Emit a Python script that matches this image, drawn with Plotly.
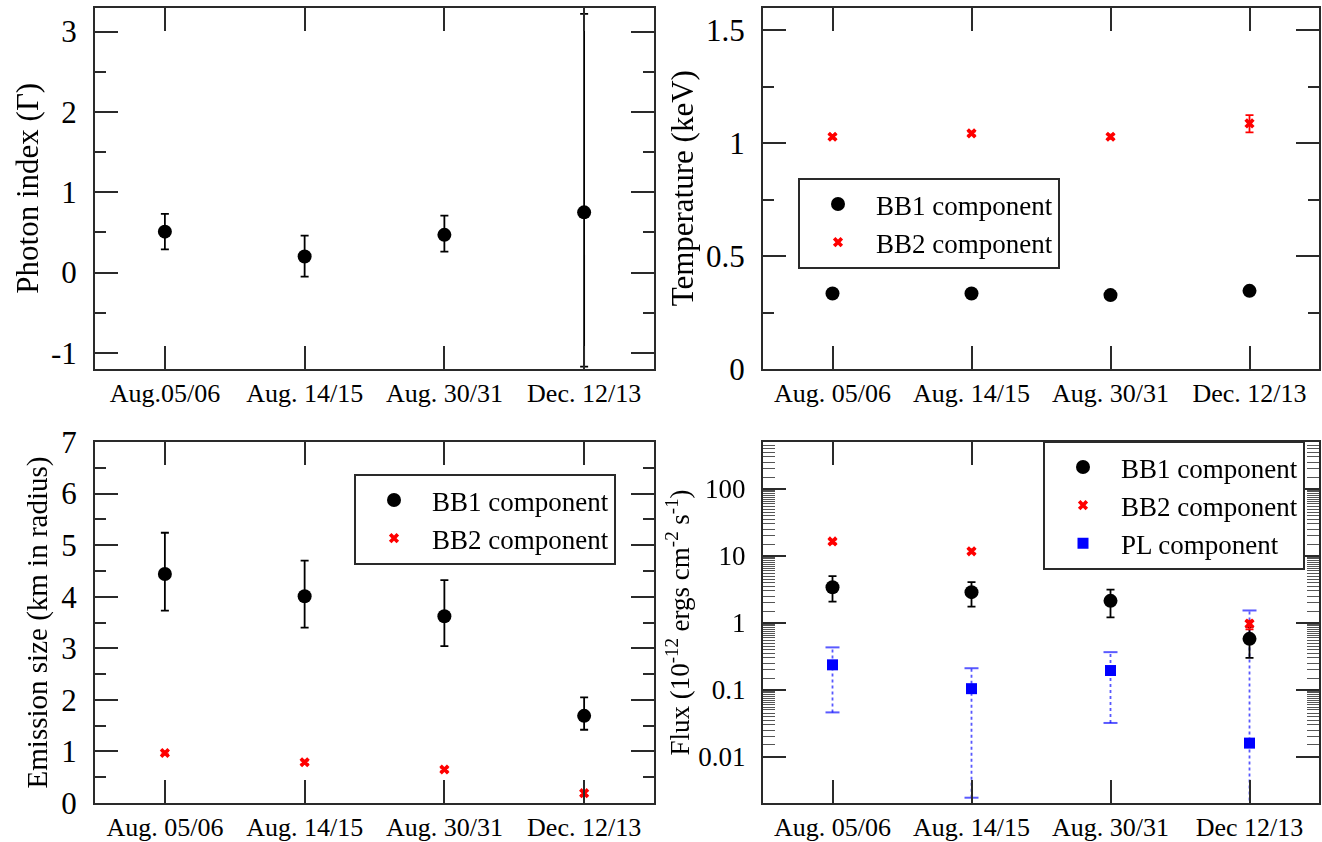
import plotly.graph_objects as go

# ---------------- data ----------------
cats_tl = ["Aug.05/06", "Aug. 14/15", "Aug. 30/31", "Dec. 12/13"]
cats_tr = ["Aug. 05/06", "Aug. 14/15", "Aug. 30/31", "Dec. 12/13"]
cats_bl = ["Aug. 05/06", "Aug. 14/15", "Aug. 30/31", "Dec. 12/13"]
cats_br = ["Aug. 05/06", "Aug. 14/15", "Aug. 30/31", "Dec 12/13"]

# photon index
gamma = [0.51, 0.20, 0.47, 0.75]
gamma_hi = [0.73, 0.46, 0.71, 3.22]
gamma_lo = [0.29, -0.05, 0.26, -1.17]
gamma_ticks = [-1, 0, 1, 2, 3]
gamma_ticktext = ["-1", "0", "1", "2", "3"]

# temperature (keV)
kt1 = [0.334, 0.334, 0.327, 0.346]
kt1_hi = [0.344, 0.344, 0.337, 0.361]
kt1_lo = [0.324, 0.324, 0.317, 0.331]
kt2 = [1.028, 1.043, 1.028, 1.087]
kt2_hi = [1.036, 1.051, 1.037, 1.124]
kt2_lo = [1.020, 1.035, 1.019, 1.047]

# emission size (km)
r1 = [4.44, 4.01, 3.62, 1.69]
r1_hi = [5.24, 4.70, 4.32, 2.05]
r1_lo = [3.73, 3.40, 3.04, 1.42]
r2 = [0.97, 0.79, 0.65, 0.19]
r2_hi = [1.00, 0.82, 0.68, 0.23]
r2_lo = [0.94, 0.76, 0.62, 0.15]

# flux (1e-12 erg cm^-2 s^-1)
f1 = [3.4, 2.87, 2.13, 0.577]
f1_hi = [4.97, 4.05, 3.14, 0.86]
f1_lo = [2.08, 1.75, 1.21, 0.30]
f2 = [16.4, 11.7, 7.5, 0.97]
f2_hi = [17.5, 12.5, 8.2, 1.08]
f2_lo = [15.3, 10.9, 6.8, 0.80]
fpl = [0.236, 0.104, 0.194, 0.016]
fpl_hi = [0.43, 0.21, 0.365, 1.53]
fpl_lo = [0.046, 0.00245, 0.032, 0.0012]
flux_ticks = [0.01, 0.1, 1, 10, 100]
flux_ticktext = ["0.01", "0.1", "1", "10", "100"]

FONT = "Liberation Serif"
BLACK = "black"
AX = "#2a2a2a"
RED = "red"
BLUE = "#0000ff"

# minor ticks of the log axis: 1.5, 2, ..., 9.5 times each decade
flux_minor = [d * m / 10 for d in flux_ticks for m in range(15, 100, 5)]


def err(val, hi, lo, color, width=4, thick=1.8):
    return dict(type="data", symmetric=False,
                array=[h - v for h, v in zip(hi, val)],
                arrayminus=[v - l for v, l in zip(val, lo)],
                color=color, thickness=thick, width=width)


fig = go.Figure()

# ---- top-left: photon index
fig.add_trace(go.Scatter(x=cats_tl, y=gamma, mode="markers", xaxis="x", yaxis="y",
                         marker=dict(color=BLACK, size=14, symbol="circle"),
                         error_y=err(gamma, gamma_hi, gamma_lo, BLACK), showlegend=False))

# ---- top-right: temperature
fig.add_trace(go.Scatter(x=cats_tr, y=kt1, mode="markers", xaxis="x2", yaxis="y2",
                         name="BB1 component", legend="legend",
                         marker=dict(color=BLACK, size=14, symbol="circle"),
                         error_y=err(kt1, kt1_hi, kt1_lo, BLACK)))
fig.add_trace(go.Scatter(x=cats_tr, y=kt2, mode="markers", xaxis="x2", yaxis="y2",
                         name="BB2 component", legend="legend",
                         marker=dict(color=RED, size=9, symbol="x"),
                         error_y=err(kt2, kt2_hi, kt2_lo, RED)))

# ---- bottom-left: emission size
fig.add_trace(go.Scatter(x=cats_bl, y=r1, mode="markers", xaxis="x3", yaxis="y3",
                         name="BB1 component", legend="legend2",
                         marker=dict(color=BLACK, size=14, symbol="circle"),
                         error_y=err(r1, r1_hi, r1_lo, BLACK)))
fig.add_trace(go.Scatter(x=cats_bl, y=r2, mode="markers", xaxis="x3", yaxis="y3",
                         name="BB2 component", legend="legend2",
                         marker=dict(color=RED, size=9, symbol="x"),
                         error_y=err(r2, r2_hi, r2_lo, RED)))

# ---- bottom-right: flux (log)
pl_x, pl_y = [], []
for c, lo, hi in zip(cats_br, fpl_lo, fpl_hi):
    pl_x += [c, c, None]
    pl_y += [lo, hi, None]
fig.add_trace(go.Scatter(x=pl_x, y=pl_y, mode="lines", xaxis="x4", yaxis="y4",
                         line=dict(color=BLUE, width=1.8, dash="dot"),
                         opacity=0.65, showlegend=False, hoverinfo="skip"))
fig.add_trace(go.Scatter(x=cats_br + cats_br, y=fpl_lo + fpl_hi, mode="markers",
                         xaxis="x4", yaxis="y4",
                         marker=dict(symbol="line-ew-open", size=10, color=BLUE,
                                     line=dict(color=BLUE, width=2)),
                         opacity=0.65, showlegend=False, hoverinfo="skip"))
fig.add_trace(go.Scatter(x=cats_br, y=f1, mode="markers", xaxis="x4", yaxis="y4",
                         name="BB1 component", legend="legend3",
                         marker=dict(color=BLACK, size=14, symbol="circle"),
                         error_y=err(f1, f1_hi, f1_lo, BLACK)))
fig.add_trace(go.Scatter(x=cats_br, y=f2, mode="markers", xaxis="x4", yaxis="y4",
                         name="BB2 component", legend="legend3",
                         marker=dict(color=RED, size=9, symbol="x"),
                         error_y=err(f2, f2_hi, f2_lo, RED)))
fig.add_trace(go.Scatter(x=cats_br, y=fpl, mode="markers", xaxis="x4", yaxis="y4",
                         name="PL component", legend="legend3",
                         marker=dict(color=BLUE, size=11, symbol="square")))

# ---------------- layout ----------------
XL = [95 / 1322, 654 / 1322]
XR = [763 / 1322, 1319 / 1322]
YT = [1 - 369 / 842, 1 - 7.5 / 842]
YB = [1 - 803 / 842, 1 - 442 / 842]

tickfont_x = dict(family=FONT, size=26, color=BLACK)
tickfont_y = dict(family=FONT, size=31, color=BLACK)


def xax(dom, anchor):
    return dict(domain=dom, anchor=anchor, type="category", range=[-0.5, 3.5],
                showline=True, linecolor=AX, linewidth=2, mirror="ticks",
                ticks="inside", ticklen=23, tickwidth=2, tickcolor=AX,
                tickfont=tickfont_x, showgrid=False, zeroline=False,
                automargin=False, fixedrange=True)


def yax(dom, anchor, rng, dtick, minor_dtick, title, tsize, standoff):
    return dict(domain=dom, anchor=anchor, range=rng, dtick=dtick, tick0=0,
                showline=True, linecolor=AX, linewidth=2, mirror="ticks",
                ticks="inside", ticklen=23, tickwidth=2, tickcolor=AX,
                minor=dict(dtick=minor_dtick, tick0=0, ticks="inside", ticklen=11,
                           tickwidth=2, tickcolor=AX, showgrid=False),
                tickfont=tickfont_y, ticklabelstandoff=10,
                showgrid=False, zeroline=False, automargin=False,
                title=dict(text=title, font=dict(family=FONT, size=tsize, color=BLACK),
                           standoff=standoff),
                fixedrange=True)


legend_common = dict(bgcolor="white", bordercolor=AX, borderwidth=2,
                     font=dict(family=FONT, size=27, color=BLACK),
                     xanchor="left", yanchor="top", itemwidth=66,
                     tracegroupgap=0)

ya1 = yax(YT, "x", [-1.2, 3.3], 1, 0.5, "Photon index (Γ)", 31, 3)
ya1.update(tickmode="array", tickvals=gamma_ticks, ticktext=gamma_ticktext)

fig.update_layout(
    width=1322, height=842,
    margin=dict(l=0, r=0, t=0, b=0),
    paper_bgcolor="white", plot_bgcolor="white",
    font=dict(family=FONT, color=BLACK),
    xaxis=xax(XL, "y"),
    yaxis=ya1,
    xaxis2=xax(XR, "y2"),
    yaxis2=yax(YT, "x2", [0, 1.6], 0.5, 0.25, "Temperature (keV)", 31, 3),
    xaxis3=xax(XL, "y3"),
    yaxis3=yax(YB, "x3", [0, 7], 1, 0.5, "Emission size (km in radius)", 29, 5),
    xaxis4=xax(XR, "y4"),
    yaxis4=dict(domain=YB, anchor="x4", type="log", range=[-2.69, 2.70],
                tickmode="array", tickvals=flux_ticks, ticktext=flux_ticktext,
                showline=True, linecolor=AX, linewidth=2, mirror="ticks",
                ticks="inside", ticklen=23, tickwidth=2, tickcolor=AX,
                minor=dict(tickmode="array", tickvals=flux_minor, ticks="inside",
                           ticklen=12, tickwidth=1, tickcolor="#555", showgrid=False),
                tickfont=dict(family=FONT, size=27, color=BLACK), ticklabelstandoff=10,
                showgrid=False, zeroline=False, automargin=False,
                title=dict(text="Flux (10<sup>-12</sup> ergs cm<sup>-2</sup> s<sup>-1</sup>)",
                           font=dict(family=FONT, size=27, color=BLACK), standoff=1),
                fixedrange=True),
    legend=dict(x=798 / 1322, y=1 - 178 / 842, **legend_common),
    legend2=dict(x=354 / 1322, y=1 - 474 / 842, **legend_common),
    legend3=dict(x=1043 / 1322, y=1 - 441 / 842, **legend_common),
)

fig.write_html("out.html")
